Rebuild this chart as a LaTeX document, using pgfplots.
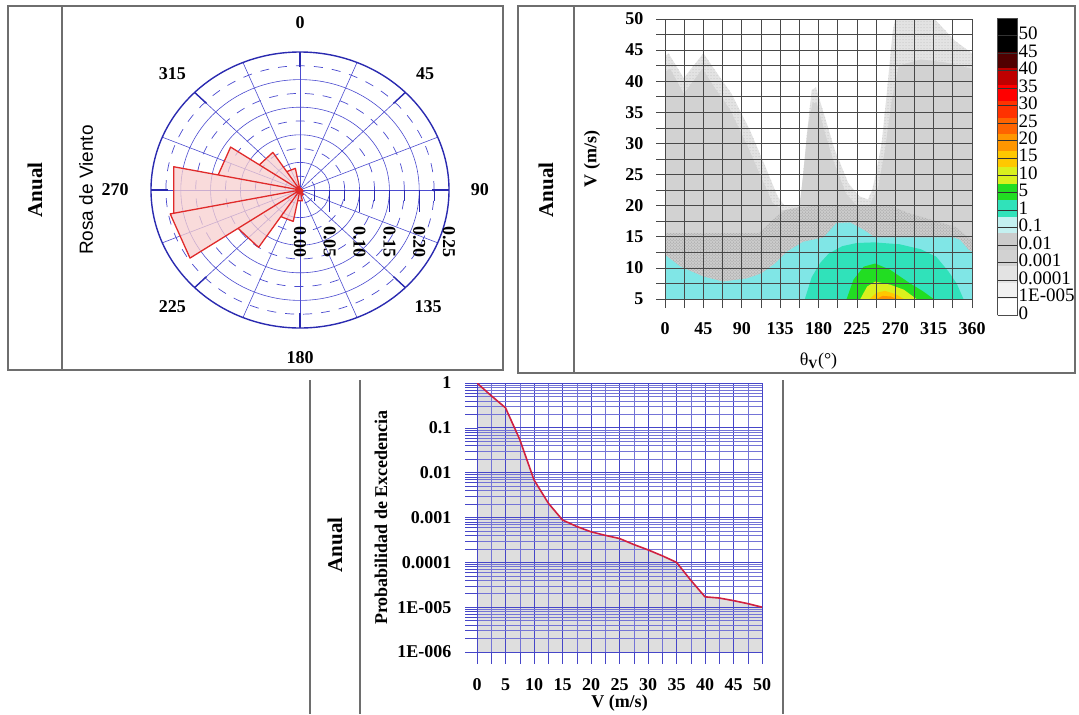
\documentclass[border=0pt]{standalone}
\usepackage{fontspec}
\setmainfont{Liberation Serif}
\setsansfont{Liberation Sans}
\usepackage{pgfplots}
\pgfplotsset{compat=1.18}
\usetikzlibrary{patterns}

\definecolor{frame}{HTML}{6E6E6E}
\definecolor{pgrid}{HTML}{4B4BCF}
\definecolor{pedge}{HTML}{2A2AB0}
\definecolor{rose}{HTML}{E02A2A}
\definecolor{rosefill}{HTML}{F7CFCF}
\definecolor{hgrid}{HTML}{484848}
\definecolor{lvA}{HTML}{E3E3E3}
\definecolor{lvC}{HTML}{D2D2D2}
\definecolor{lvD}{HTML}{CBCBCB}
\definecolor{lvE}{HTML}{80E6E6}
\definecolor{cbE}{HTML}{C4F0F0}
\definecolor{lvF}{HTML}{30E2BA}
\definecolor{lvG}{HTML}{22DD22}
\definecolor{lvH}{HTML}{DAF01E}
\definecolor{lvI}{HTML}{FFC800}
\definecolor{lvJ}{HTML}{FF9600}
\definecolor{lvK}{HTML}{FF6400}
\definecolor{lvL}{HTML}{FF3200}
\definecolor{lvM}{HTML}{FF0000}
\definecolor{lvN}{HTML}{BE0000}
\definecolor{lvO}{HTML}{500000}
\definecolor{bgrid}{HTML}{4646C8}
\definecolor{curve}{HTML}{D02040}

\newcommand{\tk}{\fontsize{18}{20}\selectfont\bfseries}
\newcommand{\anual}{\fontsize{21}{24}\selectfont\bfseries}

\begin{document}
\begin{tikzpicture}
\path (0pt,0pt) rectangle (1079pt,-714pt);

% panel frames
\begin{scope}[frame, line width=1.3pt]
\draw (8pt,-6pt) rectangle (503pt,-370pt);
\draw (62pt,-6pt) -- (62pt,-370pt);
\draw (518pt,-6pt) rectangle (1075pt,-373pt);
\draw (574pt,-6pt) -- (574pt,-373pt);
\draw (310pt,-380pt) -- (310pt,-714pt);
\draw (360pt,-380pt) -- (360pt,-714pt);
\draw (783pt,-380pt) -- (783pt,-714pt);
\end{scope}
\node[rotate=90, font=\anual] at (35pt,-190pt) {Anual};
\node[rotate=90, font=\anual] at (546pt,-190pt) {Anual};
\node[rotate=90, font=\anual] at (335pt,-545pt) {Anual};
\node[rotate=90, font=\fontsize{19}{22}\selectfont\sffamily] at (86pt,-190pt) {Rosa de Viento};

% ---------------- wind rose ----------------
\begin{axis}[at={(151pt,-328pt)}, anchor=south west, scale only axis,
  width=298pt, height=276pt,
  xmin=-0.25, xmax=0.25, ymin=-0.25, ymax=0.25,
  axis lines=none, clip=false]
\pgfplotsinvokeforeach{0.05,0.1,0.15,0.2}{
  \draw[pgrid, line width=0.6pt] (axis cs:0,0) ellipse [x radius=#1, y radius=#1];}
\pgfplotsinvokeforeach{0.025,0.075,0.125,0.175,0.225}{
  \draw[pgrid, line width=0.7pt, dash pattern=on 9pt off 9pt] (axis cs:0,0) ellipse [x radius=#1, y radius=#1];}
\pgfplotsinvokeforeach{0,22.5,...,337.5}{
  \draw[pgrid, line width=0.6pt] (axis cs:0,0) -- (axis cs:{0.25*cos(#1)},{0.25*sin(#1)});}
\pgfplotsinvokeforeach{0,45,...,315}{
  \draw[pedge, line width=1.4pt] (axis cs:{0.222*cos(#1)},{0.222*sin(#1)}) -- (axis cs:{0.25*cos(#1)},{0.25*sin(#1)});}
\draw[pedge, line width=1.4pt] (axis cs:0,0) ellipse [x radius=0.25, y radius=0.25];
\pgfplotsinvokeforeach{0.05,0.1,0.15,0.2}{
  \draw[pedge, line width=1pt] (axis cs:#1,0) -- (axis cs:#1,-0.04);}
\pgfplotsinvokeforeach{0.025,0.075,0.125,0.175,0.225}{
  \draw[pedge, line width=1pt] (axis cs:#1,0) -- (axis cs:#1,-0.02);}

% petals: (math angle, frequency), compass 0 ... 337.5
\addplot[data cs=polar, draw=rose, line width=1.3pt, fill=rosefill,
  fill opacity=0.75, line join=round] coordinates {
  (0,0) (101.25,0.004) (78.75,0.004)
  (0,0) (78.75,0.003) (56.25,0.003)
  (0,0) (56.25,0.003) (33.75,0.003)
  (0,0) (33.75,0.003) (11.25,0.003)
  (0,0) (11.25,0.004) (-11.25,0.004)
  (0,0) (-11.25,0.005) (-33.75,0.005)
  (0,0) (-33.75,0.005) (-56.25,0.005)
  (0,0) (-56.25,0.010) (-78.75,0.010)
  (0,0) (-78.75,0.020) (-101.25,0.020)
  (0,0) (-101.25,0.058) (-123.75,0.058)
  (0,0) (-123.75,0.125) (-146.25,0.125)
  (0,0) (-146.25,0.222) (-168.75,0.222)
  (0,0) (-168.75,0.216) (-191.25,0.216)
  (0,0) (-191.25,0.140) (-213.75,0.140)
  (0,0) (-213.75,0.082) (-236.25,0.082)
  (0,0) (-236.25,0.040) (-258.75,0.040)
  (0,0)} -- cycle;

\node[font=\tk] at (axis cs:0,0.304) {0};
\node[font=\tk] at (axis cs:0.21,0.21) {45};
\node[font=\tk] at (axis cs:0.302,0) {90};
\node[font=\tk] at (axis cs:0.215,-0.212) {135};
\node[font=\tk] at (axis cs:0,-0.304) {180};
\node[font=\tk] at (axis cs:-0.214,-0.212) {225};
\node[font=\tk] at (axis cs:-0.31,0) {270};
\node[font=\tk] at (axis cs:-0.214,0.21) {315};
\pgfplotsinvokeforeach{0.00,0.05,0.10,0.15,0.20,0.25}{
  \node[font=\tk, rotate=-90, anchor=west, inner sep=0pt] at (axis cs:#1,-0.065) {#1};}
\end{axis}

% ---------------- direction / speed contours ----------------
\begin{axis}[at={(665pt,-299pt)}, anchor=south west, scale only axis,
  width=307pt, height=280pt,
  xmin=0, xmax=360, ymin=5, ymax=50,
  xtick={0,45,...,360}, minor xtick={22.5,67.5,...,337.5},
  ytick={5,10,...,50}, minor ytick={7.5,12.5,...,47.5},
  grid=both,
  major grid style={hgrid, line width=0.7pt},
  minor grid style={hgrid, line width=0.7pt},
  tick align=outside, tick pos=left,
  major tick length=9pt, minor tick length=9pt,
  tick style={hgrid, line width=0.7pt},
  axis line style={hgrid, line width=0.7pt},
  axis on top,
  tick label style={font=\tk, /pgf/number format/assume math mode=true},
  xticklabel style={yshift=-11pt},
  yticklabel style={xshift=-9pt},
  xlabel={θ\textsubscript{\textbf{V}}(°)},
  xlabel style={font=\fontsize{18}{20}\selectfont, at={(axis description cs:0.5,-0.222)}, anchor=center},
  ylabel={V (m/s)},
  ylabel style={font=\tk, at={(axis description cs:-0.238,0.5)}, anchor=center},
  colormap={contours}{color=(white) color=(lvA!50!white) color=(lvA) color=(lvC)
    color=(lvD) color=(cbE) color=(lvF) color=(lvG) color=(lvH) color=(lvI)
    color=(lvJ) color=(lvK) color=(lvL) color=(lvM) color=(lvN) color=(lvO)
    color=(black) color=(black)},
  colormap access=piecewise constant,
  point meta min=0, point meta max=17,
  colorbar,
  colorbar style={
    at={(parent axis.north east)}, anchor=north west, xshift=17pt, yshift=1pt,
    scale only axis, width=20pt, height=297pt,
    ytick={0,1,...,16},
    yticklabels={0,1E-005,0.0001,0.001,0.01,0.1,1,5,10,15,20,25,30,35,40,45,50},
    yticklabel style={font=\fontsize{19}{19}\selectfont, inner sep=1pt, yshift=2pt},
    major tick length=0pt, minor ytick={},
    ymajorgrids, xmajorgrids=false, minor grid style={draw=none},
    major grid style={black!80, line width=0.5pt},
    axis line style={black!70, line width=0.6pt},
    axis on top}]
% 1e-5 .. 1e-4 envelope
\addplot[fill=lvA, draw=none, postaction={pattern=dots, pattern color=black!25}] coordinates {
  (0,5) (0,44) (4,44.5) (22,40.5) (45,44.5) (60,41.5) (78,38) (100,32) (117,26.5)
  (132,21.5) (140,20) (157,20) (160,22) (166,31) (172,38.6) (177,39) (188,34)
  (199,29) (215,23.6) (228,21.5) (238,21) (243,22.5) (247,25) (254,30) (260,38)
  (267,48) (270,50) (316,50) (340,46.5) (360,44.5) (360,5)} -- cycle;
% 1e-3 .. 0.01
\addplot[fill=lvC, draw=none] coordinates {
  (0,5) (0,41.5) (6,42) (22,38) (44,42) (58,39) (76,35.5) (97,29.5) (113,24.5)
  (126,20.5) (140,19) (157,19) (162,25) (168,33) (173,36.5) (178,36.5) (188,31.5)
  (198,27) (212,22) (225,20) (240,20) (250,23) (258,29) (266,37) (274,42.5)
  (300,43.5) (330,43) (360,42) (360,5)} -- cycle;
% 0.01 .. 0.1
\addplot[fill=lvD, draw=none, postaction={pattern=crosshatch dots, pattern color=black!40}] coordinates {
  (0,5) (0,15.6) (110,15.6) (125,17.5) (140,19.3) (160,19.8) (180,20) (265,20)
  (285,18.8) (313,17.7) (340,16.6) (358,14.7) (360,14.5) (360,5)} -- cycle;
% 0.1 .. 1
\addplot[fill=lvE, draw=none] coordinates {
  (0,5) (0,12.1) (18,10.2) (45,8.6) (68,7.8) (96,8.3) (113,9.1) (129,10.7)
  (143,12.6) (162,14.2) (186,14.9) (201,17.2) (217,17.3) (233,16.1) (246,14.9)
  (338,14.9) (346,14.5) (356,12.9) (360,12.6) (360,5)} -- cycle;
% 1 .. 5
\addplot[fill=lvF, draw=none] coordinates {
  (164,5) (172,8.5) (182,10.8) (192,12.3) (208,13.5) (225,14) (245,14.1)
  (275,13.8) (300,13) (318,11.8) (332,9.5) (342,7.5) (350,5)} -- cycle;
% 5 .. 10
\addplot[fill=lvG, draw=none] coordinates {
  (213,5) (221,8.1) (233,10.2) (246.5,10.7) (264,9.7) (287.5,7.5) (303,6.2) (315,5)} -- cycle;
% 10 .. 15
\addplot[fill=lvH, draw=none] coordinates {
  (229,5) (237,7) (246.5,7.8) (264,7.3) (280,6.5) (295,5)} -- cycle;
% 15 .. 20
\addplot[fill=lvI, draw=none] coordinates {
  (240,5) (248,6) (258,6.3) (270,5.8) (280,5)} -- cycle;
% 20 .. 25
\addplot[fill=lvJ, draw=none] coordinates {
  (248,5) (255,5.5) (265,5.4) (272,5)} -- cycle;
\end{axis}

% ---------------- exceedance probability ----------------
\begin{axis}[at={(477pt,-652pt)}, anchor=south west, scale only axis,
  width=285pt, height=269pt, set layers,
  xmin=0, xmax=50, ymin=1e-6, ymax=1, ymode=log,
  xtick={0,5,...,50}, minor xtick={2.5,7.5,...,47.5},
  ytick={1e-6,1e-5,1e-4,1e-3,1e-2,1e-1,1},
  yticklabels={1E-006,1E-005,0.0001,0.001,0.01,0.1,1},
  minor ytick={2e-6,3e-6,4e-6,5e-6,6e-6,7e-6,8e-6,9e-6,
    2e-5,3e-5,4e-5,5e-5,6e-5,7e-5,8e-5,9e-5,
    2e-4,3e-4,4e-4,5e-4,6e-4,7e-4,8e-4,9e-4,
    2e-3,3e-3,4e-3,5e-3,6e-3,7e-3,8e-3,9e-3,
    0.02,0.03,0.04,0.05,0.06,0.07,0.08,0.09,
    0.2,0.3,0.4,0.5,0.6,0.7,0.8,0.9},
  grid=both,
  major grid style={bgrid, line width=0.7pt},
  minor grid style={bgrid!75, line width=0.5pt},
  tick align=outside, tick pos=left,
  major tick length=12pt, minor tick length=12pt,
  tick style={bgrid, line width=0.5pt},
  axis line style={bgrid, line width=0.6pt},
  tick label style={font=\tk, /pgf/number format/assume math mode=true},
  yticklabel style={xshift=-10pt},
  xticklabel style={yshift=-11pt},
  xlabel={V (m/s)},
  xlabel style={font=\tk, at={(axis description cs:0.5,-0.19)}, anchor=center},
  ylabel={Probabilidad de Excedencia},
  ylabel style={font=\tk, at={(axis description cs:-0.337,0.5)}, anchor=center}]
\addplot[on layer=axis background, fill=black!13, draw=none] coordinates {
  (0,1) (2.5,0.52) (5,0.28) (7.5,0.055) (10,0.0069) (12.5,0.0021) (15,0.00088)
  (17.5,0.00063) (20,0.00048) (22.5,0.0004) (25,0.00034) (27.5,0.00025)
  (30,0.00019) (32.5,0.00014) (35,0.0001) (37.5,0.00004) (40,0.000017)
  (42.5,0.000016) (45,0.000014) (47.5,0.000012) (50,0.00001)
  (50,0.000001) (0,0.000001)} -- cycle;
\addplot[curve, line width=1.6pt] coordinates {
  (0,1) (2.5,0.52) (5,0.28) (7.5,0.055) (10,0.0069) (12.5,0.0021) (15,0.00088)
  (17.5,0.00063) (20,0.00048) (22.5,0.0004) (25,0.00034) (27.5,0.00025)
  (30,0.00019) (32.5,0.00014) (35,0.0001) (37.5,0.00004) (40,0.000017)
  (42.5,0.000016) (45,0.000014) (47.5,0.000012) (50,0.00001)};
\end{axis}
\end{tikzpicture}
\end{document}
